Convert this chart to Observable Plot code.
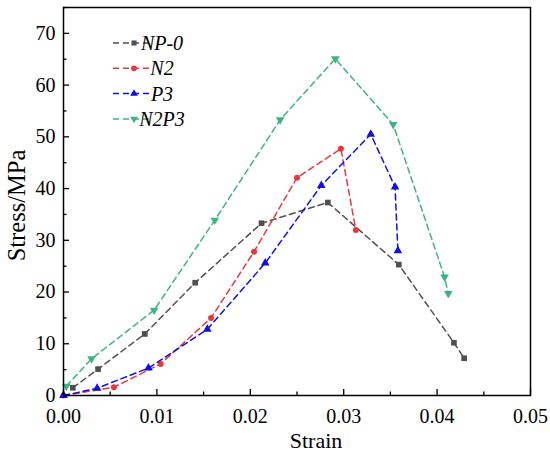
<!DOCTYPE html>
<html>
<head>
<meta charset="utf-8">
<script src="https://cdn.jsdelivr.net/npm/d3@7"></script>
<script src="https://cdn.jsdelivr.net/npm/@observablehq/plot@0.6"></script>
<style>
body{margin:0;background:#fff;}
</style>
</head>
<body>
<div id="chart"></div>
<script>
const seriesNames = ["NP-0","N2","P3","N2P3"];
const colors = ["#505050","#e8383d","#1010e0","#3cb580"];

const np0Strain = [0.0010,0.0037,0.0087,0.0141,0.0212,0.0283,0.0359,0.0418,0.0429];
const np0Stress = [1.5,5.1,11.9,21.8,33.3,37.3,25.3,10.2,7.2];
const n2Strain = [0,0.0054,0.0104,0.0158,0.0204,0.0250,0.0297,0.0313];
const n2Stress = [0,1.6,6.1,15.0,27.8,42.1,47.7,32.0];
const p3Strain = [0,0.0036,0.0091,0.0154,0.0216,0.0276,0.0329,0.0355,0.0358];
const p3Stress = [0,1.4,5.3,12.8,25.6,40.6,50.5,40.3,28.0];
const n2p3Strain = [0.0003,0.0030,0.0097,0.0162,0.0232,0.0291,0.0353,0.0408,0.0412];
const n2p3Stress = [1.8,7.1,16.5,33.9,53.3,65.1,52.4,22.9,19.7];

const xTicks = [0,0.01,0.02,0.03,0.04,0.05];
const xMinor = [0.005,0.015,0.025,0.035,0.045];
const yTicks = [0,10,20,30,40,50,60,70];
const yMinor = [5,15,25,35,45,55,65,75];
const xTitle = "Strain";
const yTitle = "Stress/MPa";

// down-pointing triangle symbol
const triangleDown = {
  draw(context, size) {
    const flip = {
      moveTo:(x,y)=>context.moveTo(x,-y),
      lineTo:(x,y)=>context.lineTo(x,-y),
      closePath:()=>context.closePath()
    };
    d3.symbolTriangle.draw(flip, size);
  }
};
const symbols = [d3.symbolSquare, d3.symbolCircle, d3.symbolTriangle, triangleDown];

const strains = [np0Strain,n2Strain,p3Strain,n2p3Strain];
const stresses = [np0Stress,n2Stress,p3Stress,n2p3Stress];
const data = [];
seriesNames.forEach((s,i)=>strains[i].forEach((x,j)=>data.push({series:s,strain:x,stress:stresses[i][j]})));

const marks = [];
seriesNames.forEach((s,i)=>{
  const d = data.filter(r=>r.series===s);
  marks.push(Plot.line(d,{x:"strain",y:"stress",stroke:colors[i],strokeWidth:1.5,strokeDasharray:"6,4"}));
  marks.push(Plot.dot(d,{x:"strain",y:"stress",fill:colors[i],stroke:"none",symbol:()=>symbols[i],r:i===1?3.0:3.2}));
});

const FONT = "Liberation Serif";

const chart = Plot.plot({
  width:550, height:456,
  marginLeft:63, marginRight:20, marginTop:7, marginBottom:61,
  style:{fontFamily:FONT,fontSize:"20px",color:"#000",background:"#fff"},
  x:{domain:[0,0.05]},
  y:{domain:[0,75]},
  marks:[
    ...marks,
    Plot.axisX(xTicks,{tickSize:-6,text:null,strokeWidth:1.3,label:null}),
    Plot.axisX(xMinor,{tickSize:-3.5,text:null,strokeWidth:1.3,label:null}),
    Plot.axisX(xTicks,{tickSize:0,tickPadding:13,tickFormat:d3.format(".2f"),fontSize:20,label:null}),
    Plot.axisY(yTicks,{tickSize:-6,text:null,strokeWidth:1.3,label:null}),
    Plot.axisY(yMinor,{tickSize:-3.5,text:null,strokeWidth:1.3,label:null}),
    Plot.axisY(yTicks,{tickSize:0,tickPadding:8,fontSize:20,label:null}),
    Plot.text([xTitle],{frameAnchor:"bottom",dx:19,dy:45.5,lineAnchor:"middle",fontSize:22,fill:"#000"}),
    Plot.text([yTitle],{frameAnchor:"left",dx:-46,dy:4,rotate:-90,lineAnchor:"middle",textAnchor:"middle",fontSize:24.5,fill:"#000"}),
    Plot.frame({stroke:"#000",strokeWidth:1.5})
  ]
});
document.getElementById("chart").appendChild(chart);

// legend
const svg = d3.select(chart);
const lg = svg.append("g");
seriesNames.forEach((s,i)=>{
  const y = 43 + i*25.3;
  lg.append("line").attr("x1",113).attr("x2",150).attr("y1",y).attr("y2",y)
    .attr("stroke",colors[i]).attr("stroke-width",1.5).attr("stroke-dasharray","6,4");
  const sym = d3.symbol().type(symbols[i]).size(26);
  lg.append("path").attr("d",sym()).attr("transform",`translate(134,${y})`).attr("fill",colors[i]);
  lg.append("text").attr("x",162).attr("y",y).attr("dy","0.35em").attr("font-style","italic")
    .attr("font-size",20).attr("fill","#000").text(s);
});
svg.selectAll("text").style("font-family","'Liberation Serif'");
</script>
</body>
</html>
